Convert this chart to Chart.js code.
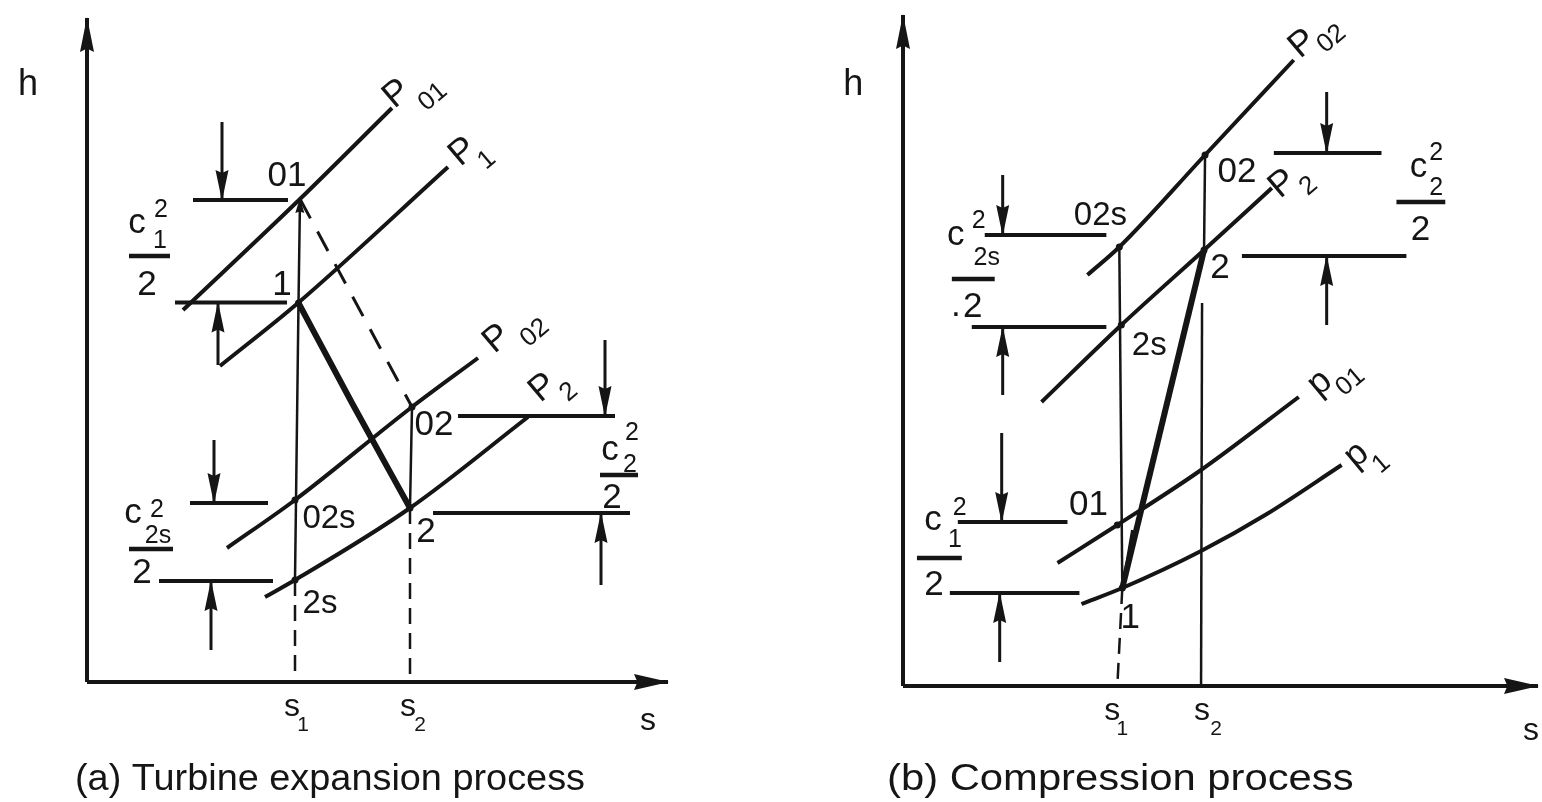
<!DOCTYPE html>
<html><head><meta charset="utf-8">
<script src="https://cdn.jsdelivr.net/npm/chart.js@4.4.1/dist/chart.umd.min.js"></script>
<style>
html,body{margin:0;padding:0;background:#fff;width:1542px;height:802px;overflow:hidden}
canvas{position:absolute;top:0}
#ca{left:0}
#cb{left:771px}
</style></head><body>
<canvas id="ca" width="771" height="802"></canvas>
<canvas id="cb" width="771" height="802"></canvas>
<script>
// ============ DATA (s = entropy, h = enthalpy, arbitrary units) ============
// ---- Panel (a): turbine expansion ----
const a_axisS = [[0,0],[58.1,0]];
const a_axisH = [[0,0],[0,66.4]];
const a_p01 = [[9.6,37.2],[21.3,48.3],[30.5,57.4]];
const a_p1  = [[13.3,31.6],[21.1,37.9],[36.1,51.5]];
const a_p02 = [[14.0,13.4],[20.8,18.2],[32.5,27.5],[39.1,32.4]];
const a_p2  = [[17.8,8.5],[20.8,10.2],[32.3,17.4],[44.1,26.5]];
const a_states = { s01:[21.3,48.3], s1:[21.15,37.9], s02:[32.5,27.5], s2:[32.3,17.4], s02s:[20.8,18.2], s2s:[20.8,10.2] };
const a_process = [[21.15,37.9],[26.5,27.9],[32.3,17.4]];
const a_levels = [ // [h, sFrom, sTo]
  [48.2,10.6,20.1],[37.95,8.8,20.0],[17.9,10.3,18.1],[10.1,7.2,18.6],[26.6,37.1,52.8],[16.9,34.6,54.3]
];
const a_dims = [ // [s, hFrom, hTip]
  [13.5,56.0,48.2],[13.1,31.7,37.95],[12.7,24.2,17.9],[12.4,3.2,10.1],[51.8,34.2,26.6],[51.4,9.7,16.9]
];
const a_bars = [[42.6,4.2,8.3],[13.3,4.2,8.6],[20.7,51.3,55.1]];

// ---- Panel (b): compression ----
const b_axisS = [[0,0],[63.7,0]];
const b_axisH = [[0,0],[0,67.1]];
const b_p02 = [[18.5,41.1],[21.7,43.9],[30.3,53.1],[39.2,62.6]];
const b_p2  = [[13.9,28.4],[21.9,36.1],[30.2,43.6],[37.0,49.8]];
const b_p01 = [[15.5,12.3],[21.5,16.1],[29.9,21.6],[39.7,28.9]];
const b_p1  = [[17.9,8.2],[22.0,9.8],[29.9,13.5],[36.5,17.2],[44.0,22.1]];
const b_states = { s02:[30.3,53.1], s02s:[21.7,43.9], s2:[30.2,43.6], s2s:[21.9,36.1], s01:[21.5,16.1], s1:[22.0,9.8] };
const b_process = [[22.0,9.8],[30.2,43.6]];
const b_levels = [
  [45.1,8.2,20.4],[35.9,6.9,20.4],[16.4,5.5,16.5],[9.3,4.7,17.7],[53.3,37.2,48.0],[43.0,34.0,50.5]
];
const b_dims = [
  [10.0,51.1,45.1],[10.0,29.1,35.9],[9.9,25.3,16.4],[9.7,2.4,9.3],[42.5,59.4,53.3],[42.5,36.1,43.0]
];
const b_bars = [[40.7,4.9,9.2],[48.4,49.5,54.4],[12.8,1.4,5.9]];

// ---- Text labels: [text, s, h, size, options] ----
const a_texts = [
  ['h',-5.9,58.7,36],
  ['01',20.0,49.6,35],['1',19.5,38.7,35],['02',34.7,24.7,35],['2',33.9,14.0,35],
  ['02s',24.2,15.4,33],['2s',23.3,6.9,33],
  ['c',5.0,44.9,35],['2',7.4,46.5,25],['1',7.3,43.4,25],['2',6.0,38.7,35],
  ['c',4.6,15.9,35],['2',7.0,16.5,25],['2s',7.1,13.9,25],['2',5.5,9.9,35],
  ['c',52.3,22.2,35],['2',54.5,24.2,25],['2',54.3,21.0,25],['2',52.5,17.4,35],
  ['s',20.5,-3.4,32],['1',21.6,-4.9,21],['s',32.1,-3.4,32],['2',33.3,-4.9,21],
  ['s',56.1,-4.8,32],
  ['P',31.0,58.8,36,{rot:-40}],['01',34.6,58.5,26,{rot:-40}],
  ['P',37.6,53.0,36,{rot:-40}],['1',40.0,52.2,26,{rot:-40}],
  ['P',41.0,34.3,36,{rot:-40}],['02',44.8,34.9,26,{rot:-40}],
  ['P',45.6,29.4,36,{rot:-40}],['2',48.2,29.0,26,{rot:-40}],
  ['(a) Turbine expansion process',-1.2,-10.8,36,{align:'left',fitW:51}]
];
const b_texts = [
  ['h',-5.0,59.1,36],
  ['02',33.5,50.4,35],['02s',19.8,46.1,33],['2',31.8,40.8,35],['2s',24.7,33.1,33],
  ['01',18.6,17.1,35],['1',22.8,5.8,35],
  ['c',5.3,44.1,35],['2',7.6,45.8,25],['2s',8.4,42.1,25],['2',7.0,36.9,35],['.',5.3,37.0,35],
  ['c',51.7,50.9,35],['2',53.5,52.6,25],['2',53.5,49.1,25],['2',51.9,44.6,35],
  ['c',3.0,15.6,35],['2',5.7,17.1,25],['1',5.2,13.9,25],['2',3.1,9.1,35],
  ['s',21.0,-3.4,32],['1',22.0,-4.9,21],['s',30.0,-3.4,32],['2',31.4,-4.9,21],
  ['s',63.0,-5.4,32],
  ['P',40.1,64.2,36,{rot:-40}],['02',43.0,64.7,26,{rot:-40}],
  ['P',38.1,50.2,36,{rot:-40}],['2',40.7,50.0,26,{rot:-40}],
  ['p',41.8,30.3,36,{rot:-40}],['01',44.9,30.4,26,{rot:-40}],
  ['p',45.5,23.1,36,{rot:-40}],['1',48.0,22.2,26,{rot:-40}],
  ['(b) Compression process',-1.6,-10.4,36,{align:'left',fitW:46.8}]
];

// ============ RENDERING ============
const INK = '#151515';
const FONT = '"Liberation Sans", Arial, Helvetica, sans-serif';

function ln(pts, o) {
  return Object.assign({
    data: pts.map(p => ({x:p[0], y:p[1]})),
    showLine: true, borderColor: INK, backgroundColor: INK,
    borderWidth: 4, pointRadius: 0, pointHoverRadius: 0, tension: 0, clip: false, fill: false
  }, o || {});
}

const arrowPlugin = {
  id: 'arrowHeads',
  afterDatasetsDraw(chart) {
    const ctx = chart.ctx;
    chart.data.datasets.forEach((ds, i) => {
      if (!ds.arrowHead) return;
      const pts = chart.getDatasetMeta(i).data;
      const a = pts[pts.length-1], b = pts[pts.length-2];
      const ang = Math.atan2(a.y-b.y, a.x-b.x);
      const L = ds.arrowHead[0], W = ds.arrowHead[1];
      ctx.save();
      ctx.translate(a.x, a.y); ctx.rotate(ang);
      ctx.fillStyle = INK;
      ctx.beginPath(); ctx.moveTo(1,0); ctx.lineTo(-L,-W); ctx.lineTo(-L*0.9,0); ctx.lineTo(-L,W); ctx.closePath();
      ctx.fill();
      ctx.restore();
    });
  }
};

function textPlugin(items) {
  return {
    id: 'figText',
    afterDraw(chart) {
      const ctx = chart.ctx, xs = chart.scales.x, ys = chart.scales.y;
      items.forEach(it => {
        const [t, s, h, size, o0] = it; const o = o0 || {};
        const x = xs.getPixelForValue(s), y = ys.getPixelForValue(h);
        ctx.save();
        ctx.fillStyle = INK;
        ctx.font = size + 'px ' + FONT;
        ctx.translate(x, y);
        if (o.rot) {
          ctx.rotate(o.rot*Math.PI/180);
          ctx.textAlign = 'center'; ctx.textBaseline = 'middle';
        } else {
          ctx.textAlign = o.align || 'center'; ctx.textBaseline = 'alphabetic';
        }
        if (o.fitW) {
          const target = xs.getPixelForValue(s+o.fitW) - x;
          const w = ctx.measureText(t).width;
          ctx.scale(target/w, 1);
        }
        ctx.fillText(t, 0, 0);
        ctx.restore();
      });
    }
  };
}

function buildPanel(id, d) {
  const ds = [];
  ds.push(ln(d.axisH, {borderWidth:4, arrowHead:[34,7]}));
  ds.push(ln(d.axisS, {borderWidth:4, arrowHead:[34,8]}));
  d.curves.forEach(c => ds.push(ln(c, {borderWidth:4, cubicInterpolationMode:'monotone'})));
  d.levels.forEach(l => ds.push(ln([[l[1],l[0]],[l[2],l[0]]], {borderWidth:4})));
  d.bars.forEach(l => ds.push(ln([[l[1],l[0]],[l[2],l[0]]], {borderWidth:4.5})));
  d.dims.forEach(a => ds.push(ln([[a[0],a[1]],[a[0],a[2]]], {borderWidth:3, arrowHead:[30,6.5]})));
  d.extra.forEach(e => ds.push(ln(e[0], e[1])));
  ds.push({data: d.points.map(p => ({x:p[0], y:p[1]})), showLine:false, pointRadius:3.5,
           pointBackgroundColor:INK, pointBorderWidth:0, clip:false});
  new Chart(document.getElementById(id), {
    type: 'scatter',
    data: { datasets: ds },
    options: {
      responsive: false, animation: false, devicePixelRatio: 1, events: [],
      layout: { padding: d.pad },
      scales: {
        x: { type:'linear', display:false, min:0, max:d.axisS[1][0] },
        y: { type:'linear', display:false, min:0, max:d.axisH[1][1] }
      },
      plugins: { legend:{display:false}, tooltip:{enabled:false}, title:{display:false} }
    },
    plugins: [arrowPlugin, textPlugin(d.texts)]
  });
}

const A = a_states;
buildPanel('ca', {
  pad: {left:87, right:103, top:18, bottom:120},
  axisS: a_axisS, axisH: a_axisH,
  curves: [a_p01, a_p1, a_p02, a_p2],
  levels: a_levels, bars: a_bars, dims: a_dims, texts: a_texts,
  points: [A.s1, A.s2, A.s02s, A.s2s, A.s02],
  extra: [
    [a_process, {borderWidth:6, cubicInterpolationMode:'monotone'}],
    [[A.s01, A.s02], {borderWidth:3, borderDash:[22,15]}],
    [[A.s1, A.s01], {borderWidth:2.5, arrowHead:[14,4.5]}],
    [[A.s1, A.s2s], {borderWidth:2.5}],
    [[A.s2s, [A.s2s[0],0]], {borderWidth:2.5, borderDash:[16,9]}],
    [[A.s02, A.s2], {borderWidth:2.5}],
    [[A.s2, [A.s2[0],0]], {borderWidth:2.5, borderDash:[16,9]}]
  ]
});

const B = b_states;
buildPanel('cb', {
  pad: {left:132, right:2, top:15, bottom:116},
  axisS: b_axisS, axisH: b_axisH,
  curves: [b_p02, b_p2, b_p01, b_p1],
  levels: b_levels, bars: b_bars, dims: b_dims, texts: b_texts,
  points: [B.s01, B.s1, B.s2, B.s2s, B.s02s, B.s02],
  extra: [
    [b_process, {borderWidth:6}],
    [[B.s1, [23.0,15.6]], {borderWidth:2.5}],
    [[B.s02s, B.s1], {borderWidth:2.5}],
    [[B.s1, [21.5,0]], {borderWidth:2.5, borderDash:[16,9]}],
    [[B.s02, B.s2], {borderWidth:2.5}],
    [[[30.0,38.3],[29.9,0]], {borderWidth:2.5}]
  ]
});
</script>
</body></html>
